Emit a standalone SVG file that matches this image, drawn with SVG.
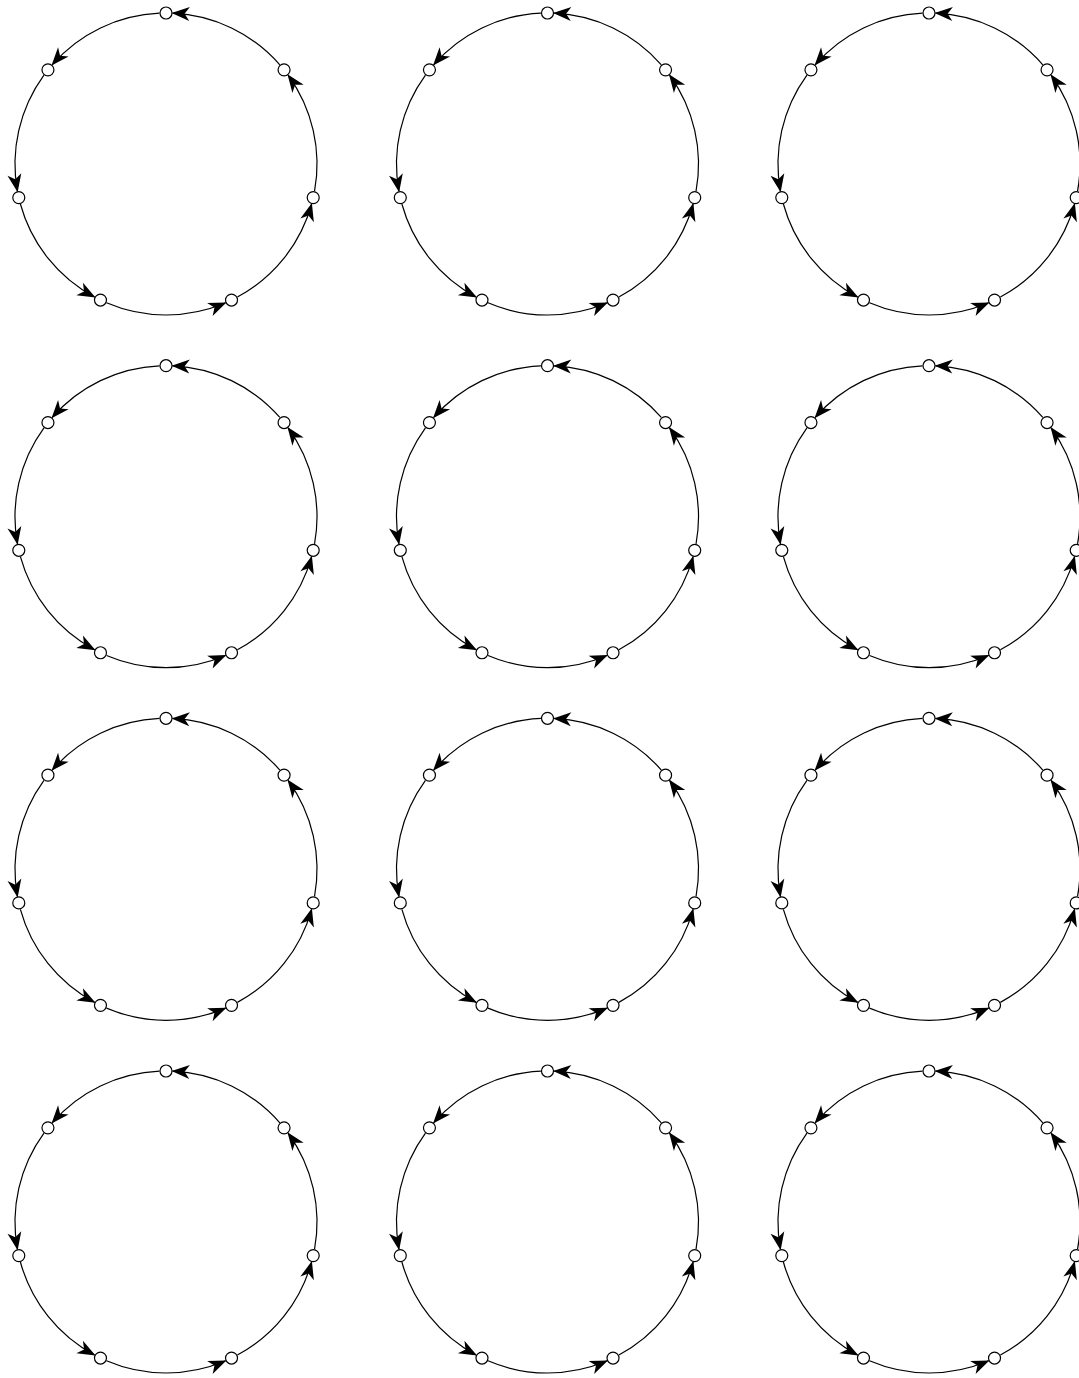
<svg xmlns="http://www.w3.org/2000/svg" xmlns:xlink="http://www.w3.org/1999/xlink" width="1079" height="1378" viewBox="0 0 1079 1378">
<style>
.node circle{fill:#fff;stroke:#000;stroke-width:1.2}
</style>
<defs>
<marker id="stealth" markerUnits="userSpaceOnUse" markerWidth="1" markerHeight="1" refX="0" refY="0" orient="auto" overflow="visible">
<path d="M1,0 L-17,-7 L-12,0 L-17,7 Z" fill="#000" stroke="none"/>
</marker>
<g id="edges-tpl" fill="none" stroke="#000" stroke-width="1.2" marker-end="url(#stealth)">
<path d="M-6.59,-150.86 A151,151 0 0 0 -113.83,-99.22"/>
<path d="M-122.05,-88.91 A151,151 0 0 0 -148.54,27.16"/>
<path d="M-145.61,40 A151,151 0 0 0 -71.37,133.07"/>
<path d="M-59.51,138.78 A151,151 0 0 0 59.51,138.78"/>
<path d="M71.37,133.07 A151,151 0 0 0 145.61,40"/>
<path d="M148.54,27.16 A151,151 0 0 0 122.05,-88.91"/>
<path d="M113.83,-99.22 A151,151 0 0 0 6.59,-150.86"/>
</g>
</defs>

<g id="panel-1-1" transform="translate(166,164)">
<g id="p11-connectors" class="edges"><use xlink:href="#edges-tpl" href="#edges-tpl"/></g>
<g id="p11-n0" class="node"><circle cx="0" cy="-151" r="6"/></g>
<g id="p11-n1" class="node"><circle cx="-118.06" cy="-94.15" r="6"/></g>
<g id="p11-n2" class="node"><circle cx="-147.21" cy="33.6" r="6"/></g>
<g id="p11-n3" class="node"><circle cx="-65.52" cy="136.05" r="6"/></g>
<g id="p11-n4" class="node"><circle cx="65.52" cy="136.05" r="6"/></g>
<g id="p11-n5" class="node"><circle cx="147.21" cy="33.6" r="6"/></g>
<g id="p11-n6" class="node"><circle cx="118.06" cy="-94.15" r="6"/></g>
</g>

<g id="panel-1-2" transform="translate(547.5,164)">
<g id="p12-connectors" class="edges"><use xlink:href="#edges-tpl" href="#edges-tpl"/></g>
<g id="p12-n0" class="node"><circle cx="0" cy="-151" r="6"/></g>
<g id="p12-n1" class="node"><circle cx="-118.06" cy="-94.15" r="6"/></g>
<g id="p12-n2" class="node"><circle cx="-147.21" cy="33.6" r="6"/></g>
<g id="p12-n3" class="node"><circle cx="-65.52" cy="136.05" r="6"/></g>
<g id="p12-n4" class="node"><circle cx="65.52" cy="136.05" r="6"/></g>
<g id="p12-n5" class="node"><circle cx="147.21" cy="33.6" r="6"/></g>
<g id="p12-n6" class="node"><circle cx="118.06" cy="-94.15" r="6"/></g>
</g>

<g id="panel-1-3" transform="translate(929,164)">
<g id="p13-connectors" class="edges"><use xlink:href="#edges-tpl" href="#edges-tpl"/></g>
<g id="p13-n0" class="node"><circle cx="0" cy="-151" r="6"/></g>
<g id="p13-n1" class="node"><circle cx="-118.06" cy="-94.15" r="6"/></g>
<g id="p13-n2" class="node"><circle cx="-147.21" cy="33.6" r="6"/></g>
<g id="p13-n3" class="node"><circle cx="-65.52" cy="136.05" r="6"/></g>
<g id="p13-n4" class="node"><circle cx="65.52" cy="136.05" r="6"/></g>
<g id="p13-n5" class="node"><circle cx="147.21" cy="33.6" r="6"/></g>
<g id="p13-n6" class="node"><circle cx="118.06" cy="-94.15" r="6"/></g>
</g>

<g id="panel-2-1" transform="translate(166,516.7)">
<g id="p21-connectors" class="edges"><use xlink:href="#edges-tpl" href="#edges-tpl"/></g>
<g id="p21-n0" class="node"><circle cx="0" cy="-151" r="6"/></g>
<g id="p21-n1" class="node"><circle cx="-118.06" cy="-94.15" r="6"/></g>
<g id="p21-n2" class="node"><circle cx="-147.21" cy="33.6" r="6"/></g>
<g id="p21-n3" class="node"><circle cx="-65.52" cy="136.05" r="6"/></g>
<g id="p21-n4" class="node"><circle cx="65.52" cy="136.05" r="6"/></g>
<g id="p21-n5" class="node"><circle cx="147.21" cy="33.6" r="6"/></g>
<g id="p21-n6" class="node"><circle cx="118.06" cy="-94.15" r="6"/></g>
</g>

<g id="panel-2-2" transform="translate(547.5,516.7)">
<g id="p22-connectors" class="edges"><use xlink:href="#edges-tpl" href="#edges-tpl"/></g>
<g id="p22-n0" class="node"><circle cx="0" cy="-151" r="6"/></g>
<g id="p22-n1" class="node"><circle cx="-118.06" cy="-94.15" r="6"/></g>
<g id="p22-n2" class="node"><circle cx="-147.21" cy="33.6" r="6"/></g>
<g id="p22-n3" class="node"><circle cx="-65.52" cy="136.05" r="6"/></g>
<g id="p22-n4" class="node"><circle cx="65.52" cy="136.05" r="6"/></g>
<g id="p22-n5" class="node"><circle cx="147.21" cy="33.6" r="6"/></g>
<g id="p22-n6" class="node"><circle cx="118.06" cy="-94.15" r="6"/></g>
</g>

<g id="panel-2-3" transform="translate(929,516.7)">
<g id="p23-connectors" class="edges"><use xlink:href="#edges-tpl" href="#edges-tpl"/></g>
<g id="p23-n0" class="node"><circle cx="0" cy="-151" r="6"/></g>
<g id="p23-n1" class="node"><circle cx="-118.06" cy="-94.15" r="6"/></g>
<g id="p23-n2" class="node"><circle cx="-147.21" cy="33.6" r="6"/></g>
<g id="p23-n3" class="node"><circle cx="-65.52" cy="136.05" r="6"/></g>
<g id="p23-n4" class="node"><circle cx="65.52" cy="136.05" r="6"/></g>
<g id="p23-n5" class="node"><circle cx="147.21" cy="33.6" r="6"/></g>
<g id="p23-n6" class="node"><circle cx="118.06" cy="-94.15" r="6"/></g>
</g>

<g id="panel-3-1" transform="translate(166,869.3)">
<g id="p31-connectors" class="edges"><use xlink:href="#edges-tpl" href="#edges-tpl"/></g>
<g id="p31-n0" class="node"><circle cx="0" cy="-151" r="6"/></g>
<g id="p31-n1" class="node"><circle cx="-118.06" cy="-94.15" r="6"/></g>
<g id="p31-n2" class="node"><circle cx="-147.21" cy="33.6" r="6"/></g>
<g id="p31-n3" class="node"><circle cx="-65.52" cy="136.05" r="6"/></g>
<g id="p31-n4" class="node"><circle cx="65.52" cy="136.05" r="6"/></g>
<g id="p31-n5" class="node"><circle cx="147.21" cy="33.6" r="6"/></g>
<g id="p31-n6" class="node"><circle cx="118.06" cy="-94.15" r="6"/></g>
</g>

<g id="panel-3-2" transform="translate(547.5,869.3)">
<g id="p32-connectors" class="edges"><use xlink:href="#edges-tpl" href="#edges-tpl"/></g>
<g id="p32-n0" class="node"><circle cx="0" cy="-151" r="6"/></g>
<g id="p32-n1" class="node"><circle cx="-118.06" cy="-94.15" r="6"/></g>
<g id="p32-n2" class="node"><circle cx="-147.21" cy="33.6" r="6"/></g>
<g id="p32-n3" class="node"><circle cx="-65.52" cy="136.05" r="6"/></g>
<g id="p32-n4" class="node"><circle cx="65.52" cy="136.05" r="6"/></g>
<g id="p32-n5" class="node"><circle cx="147.21" cy="33.6" r="6"/></g>
<g id="p32-n6" class="node"><circle cx="118.06" cy="-94.15" r="6"/></g>
</g>

<g id="panel-3-3" transform="translate(929,869.3)">
<g id="p33-connectors" class="edges"><use xlink:href="#edges-tpl" href="#edges-tpl"/></g>
<g id="p33-n0" class="node"><circle cx="0" cy="-151" r="6"/></g>
<g id="p33-n1" class="node"><circle cx="-118.06" cy="-94.15" r="6"/></g>
<g id="p33-n2" class="node"><circle cx="-147.21" cy="33.6" r="6"/></g>
<g id="p33-n3" class="node"><circle cx="-65.52" cy="136.05" r="6"/></g>
<g id="p33-n4" class="node"><circle cx="65.52" cy="136.05" r="6"/></g>
<g id="p33-n5" class="node"><circle cx="147.21" cy="33.6" r="6"/></g>
<g id="p33-n6" class="node"><circle cx="118.06" cy="-94.15" r="6"/></g>
</g>

<g id="panel-4-1" transform="translate(166,1222)">
<g id="p41-connectors" class="edges"><use xlink:href="#edges-tpl" href="#edges-tpl"/></g>
<g id="p41-n0" class="node"><circle cx="0" cy="-151" r="6"/></g>
<g id="p41-n1" class="node"><circle cx="-118.06" cy="-94.15" r="6"/></g>
<g id="p41-n2" class="node"><circle cx="-147.21" cy="33.6" r="6"/></g>
<g id="p41-n3" class="node"><circle cx="-65.52" cy="136.05" r="6"/></g>
<g id="p41-n4" class="node"><circle cx="65.52" cy="136.05" r="6"/></g>
<g id="p41-n5" class="node"><circle cx="147.21" cy="33.6" r="6"/></g>
<g id="p41-n6" class="node"><circle cx="118.06" cy="-94.15" r="6"/></g>
</g>

<g id="panel-4-2" transform="translate(547.5,1222)">
<g id="p42-connectors" class="edges"><use xlink:href="#edges-tpl" href="#edges-tpl"/></g>
<g id="p42-n0" class="node"><circle cx="0" cy="-151" r="6"/></g>
<g id="p42-n1" class="node"><circle cx="-118.06" cy="-94.15" r="6"/></g>
<g id="p42-n2" class="node"><circle cx="-147.21" cy="33.6" r="6"/></g>
<g id="p42-n3" class="node"><circle cx="-65.52" cy="136.05" r="6"/></g>
<g id="p42-n4" class="node"><circle cx="65.52" cy="136.05" r="6"/></g>
<g id="p42-n5" class="node"><circle cx="147.21" cy="33.6" r="6"/></g>
<g id="p42-n6" class="node"><circle cx="118.06" cy="-94.15" r="6"/></g>
</g>

<g id="panel-4-3" transform="translate(929,1222)">
<g id="p43-connectors" class="edges"><use xlink:href="#edges-tpl" href="#edges-tpl"/></g>
<g id="p43-n0" class="node"><circle cx="0" cy="-151" r="6"/></g>
<g id="p43-n1" class="node"><circle cx="-118.06" cy="-94.15" r="6"/></g>
<g id="p43-n2" class="node"><circle cx="-147.21" cy="33.6" r="6"/></g>
<g id="p43-n3" class="node"><circle cx="-65.52" cy="136.05" r="6"/></g>
<g id="p43-n4" class="node"><circle cx="65.52" cy="136.05" r="6"/></g>
<g id="p43-n5" class="node"><circle cx="147.21" cy="33.6" r="6"/></g>
<g id="p43-n6" class="node"><circle cx="118.06" cy="-94.15" r="6"/></g>
</g>
</svg>
